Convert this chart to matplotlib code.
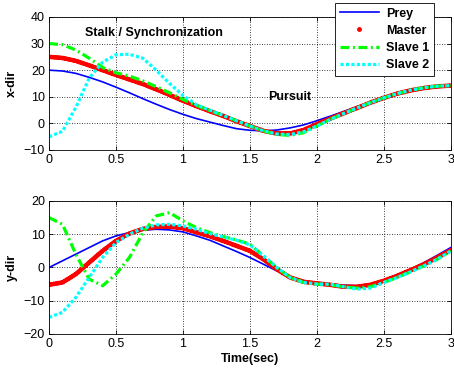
import matplotlib
matplotlib.use("Agg")
import matplotlib.pyplot as plt
from matplotlib.lines import Line2D

plt.rcParams['font.family'] = ['Liberation Sans', 'DejaVu Sans']
plt.rcParams['font.size'] = 9

# time base (s)
t = [i / 10 for i in range(31)]

# x-direction
prey_x = [20, 19.7, 18.8, 17.3, 15.6, 13.6, 11.5, 9.3, 7.2, 5.2, 3.4, 1.8, 0.5, -0.8, -2.0,
          -2.6, -2.8, -2.5, -1.7, -0.6, 1.0, 2.7, 4.5, 6.3, 8.0, 9.6, 11.0, 12.2, 13.1, 13.7, 14.0]
master_x = [25, 24.6, 23.5, 21.8, 20.0, 18.2, 16.5, 14.8, 12.8, 10.7, 8.5, 6.5, 4.6, 2.8, 0.8,
            -1.0, -2.8, -3.8, -3.8, -2.5, -0.3, 1.8, 3.8, 5.8, 7.8, 9.6, 11.2, 12.4, 13.3, 13.9, 14.2]
slave1_x = [30, 29.6, 27.6, 24.5, 21.0, 19.0, 17.8, 16.0, 13.8, 11.5, 9.0, 6.8, 4.8, 3.0, 1.0,
            -1.0, -2.8, -4.2, -4.5, -3.5, -1.0, 1.5, 3.7, 5.8, 7.8, 9.6, 11.2, 12.5, 13.4, 14.0, 14.2]
slave2_x = [-5, -3, 6, 17, 23, 25.8, 26, 24.5, 20, 15, 10.5, 7.0, 5.0, 3.0, 1.0,
            -1.0, -2.8, -4.0, -4.2, -3.2, -1.0, 1.5, 3.7, 5.8, 7.8, 9.6, 11.2, 12.5, 13.4, 14.0, 14.2]

# y-direction
prey_y = [0, 2, 4, 6, 8, 9.5, 10.5, 11.2, 11.5, 11.3, 10.7, 9.5, 8.2, 6.5, 4.8,
          3.0, 1.0, -1.0, -2.8, -4.0, -4.6, -5.0, -5.3, -5.5, -5.2, -4.2, -2.5, -0.5, 1.5, 3.7, 6.0]
master_y = [-5.2, -4.5, -2, 1.5, 5, 8, 10.2, 11.6, 12.2, 12.3, 11.8, 10.6, 9.4, 8.0, 6.5,
            5.0, 2.5, -0.5, -3.0, -4.3, -4.8, -5.2, -5.8, -5.8, -5.2, -4.0, -2.5, -0.8, 1.0, 3.0, 5.2]
slave1_y = [15, 13, 4, -3.5, -5.5, -2, 3, 10.4, 15.5, 16.5, 14, 12, 10.5, 9.3, 8.3,
            7.0, 3.5, 0.0, -3.0, -4.5, -5.0, -5.2, -5.8, -6.2, -5.8, -4.5, -3.0, -1.3, 0.5, 2.5, 5.0]
slave2_y = [-15, -13.5, -9, -3, 3, 7.5, 10, 11.8, 12.8, 13, 12.5, 11.5, 10.2, 9.2, 8.2,
            6.8, 3.5, 0.0, -3.0, -4.5, -5.0, -5.0, -5.8, -6.5, -6.2, -4.5, -3.0, -1.3, 0.5, 2.5, 5.0]

labels = ['Prey', 'Master', 'Slave 1', 'Slave 2']

fig = plt.figure(figsize=(4.54, 3.74), dpi=100)
ax1 = fig.add_axes([0.108, 0.599, 0.885, 0.3556])
ax2 = fig.add_axes([0.108, 0.107, 0.885, 0.3556])

blue, red, green, cyan = '#0000ff', '#ff0000', '#00ff00', '#00ffff'
s1_style = (0, (2.8, 1.1, 0.6, 1.1))
s2_style = (0, (1.0, 0.7))


def draw(ax, prey, master, s1, s2):
    ax.plot(t, prey, color=blue, lw=1.2)
    ax.plot(t, master, color=red, lw=3.4, linestyle=(0, (0.1, 0.4)),
            dash_capstyle='round')
    ax.plot(t, s1, color=green, lw=2.3, linestyle=s1_style)
    ax.plot(t, s2, color=cyan, lw=2.3, linestyle=s2_style)
    ax.set_xlim(0, 3)
    ax.set_xticks([0, 0.5, 1, 1.5, 2, 2.5, 3])
    ax.set_xticklabels(['0', '0.5', '1', '1.5', '2', '2.5', '3'])
    ax.grid(True, color='black', linestyle=(0, (1, 2)), lw=0.6)
    ax.tick_params(direction='in', length=3, width=0.6, top=True, right=True, pad=3)
    for s in ax.spines.values():
        s.set_linewidth(0.6)


draw(ax1, prey_x, master_x, slave1_x, slave2_x)
ax1.set_ylim(-10, 40)
ax1.set_yticks(range(-10, 41, 10))
ax1.set_ylabel('x-dir', fontweight='bold', labelpad=4)
ax1.text(0.78, 34, 'Stalk / Synchronization', fontweight='bold', ha='center', va='center')
ax1.text(1.8, 10, 'Pursuit', fontweight='bold', ha='center', va='center')

draw(ax2, prey_y, master_y, slave1_y, slave2_y)
ax2.set_ylim(-20, 20)
ax2.set_yticks(range(-20, 21, 10))
ax2.set_ylabel('y-dir', fontweight='bold', labelpad=4)
ax2.set_xlabel('Time(sec)', fontweight='bold', labelpad=2)

handles = [
    Line2D([], [], color=blue, lw=1.2),
    Line2D([], [], color=red, ls='none', marker='.', markersize=5),
    Line2D([], [], color=green, lw=2.3, linestyle=s1_style),
    Line2D([], [], color=cyan, lw=2.3, linestyle=s2_style),
]
leg = fig.legend(handles, labels, loc='upper right', bbox_to_anchor=(0.957, 0.993),
                 fancybox=False, framealpha=1, edgecolor='black', handlelength=3.1,
                 prop={'weight': 'bold', 'size': 9}, borderpad=0.4, labelspacing=0.42,
                 handletextpad=0.6, borderaxespad=0)
leg.get_frame().set_linewidth(0.6)

fig.savefig('out.png', dpi=100)
